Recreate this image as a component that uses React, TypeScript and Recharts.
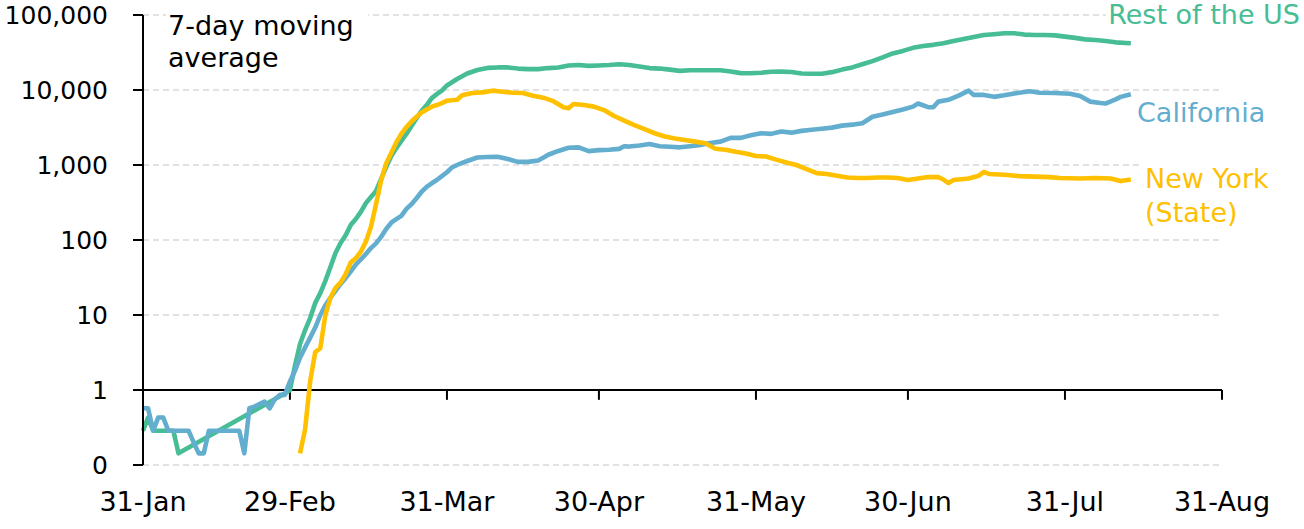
import React from 'react';
import { LineChart, Line, XAxis, YAxis, CartesianGrid, ReferenceLine } from 'recharts';

// x = days since 31-Jan
const tickDays = [0, 29, 60, 90, 121, 151, 182, 213];
const tickLabels = ['31-Jan', '29-Feb', '31-Mar', '30-Apr', '31-May', '30-Jun', '31-Jul', '31-Aug'];
const yTicks = [0.1, 1, 10, 100, 1000, 10000, 100000];

const restDays = [
  0, 1, 2, 6, 7, 28, 29, 30, 31, 32, 33, 34, 35, 36, 37, 38, 39, 40, 41, 42, 43, 44, 45, 46, 47, 48, 49, 50,
  51, 52, 53, 54, 55, 56, 57, 58, 59, 60, 62, 64, 66, 68, 70, 72, 74, 76, 78, 80, 82, 84, 86, 88, 90, 92, 94,
  96, 98, 100, 102, 104, 106, 108, 110, 112, 114, 116, 118, 120, 122, 124, 126, 128, 130, 132, 134, 136, 138,
  140, 142, 144, 146, 148, 150, 152, 154, 156, 158, 160, 162, 164, 166, 168, 170, 172, 174, 176, 178, 180, 182,
  184, 186, 188, 190, 192, 194, 195,
];
const restValues = [
  0.286, 0.429, 0.286, 0.286, 0.143, 0.9, 1.0, 2.1, 4.1, 6.3, 9.1, 14.5, 19.6, 28.5, 43.6, 67, 91, 116, 158, 190,
  237, 310, 375, 450, 650, 940, 1310, 1680, 2100, 2600, 3300, 4200, 5300, 6300, 7800, 8800, 9800, 11500, 14000,
  16600, 18500, 19700, 20000, 20000, 19300, 19000, 19000, 19600, 20000, 21200, 21500, 21000, 21200, 21500, 22000,
  21500, 20600, 19600, 19300, 18700, 18000, 18300, 18300, 18300, 18300, 17600, 16800, 16700, 17000, 17500, 17600,
  17400, 16600, 16500, 16500, 17300, 18700, 20000, 22000, 24300, 27200, 30700, 33200, 36500, 38600, 40000, 42000,
  45000, 47800, 51000, 54000, 55500, 57000, 57000, 54800, 54000, 54000, 53500, 51500, 49500, 47300, 46400, 45000,
  43200, 42400, 42000,
];

const caDays = [
  0, 1, 2, 3, 4, 5, 9, 10, 11, 12, 13, 19, 20, 21, 22, 23, 24, 25, 26, 27, 28, 29, 30, 31, 32, 33, 34, 35, 36,
  37, 38, 39, 40, 41, 42, 43, 44, 45, 46, 47, 48, 49, 50, 51, 52, 53, 54, 55, 56, 57, 58, 59, 60, 61, 62, 63, 64,
  66, 68, 70, 72, 74, 76, 78, 79, 80, 82, 84, 86, 88, 90, 92, 94, 95, 96, 98, 100, 102, 104, 106, 108, 110, 112,
  114, 116, 118, 120, 122, 124, 126, 128, 130, 132, 134, 136, 138, 140, 142, 144, 146, 148, 150, 152, 153, 155,
  156, 157, 159, 161, 163, 164, 166, 168, 170, 172, 175, 177, 180, 183, 185, 187, 189, 190, 192, 193, 195,
];
const caValues = [
  0.571, 0.571, 0.286, 0.429, 0.429, 0.286, 0.286, 0.2, 0.143, 0.143, 0.286, 0.286, 0.143, 0.571, 0.6, 0.65, 0.7,
  0.57, 0.75, 0.86, 0.86, 1.3, 1.8, 2.7, 3.7, 5.0, 6.8, 10, 13.5, 17, 21, 26, 31, 38, 47, 55, 65, 78, 90, 110, 140,
  170, 190, 210, 260, 300, 360, 440, 510, 570, 630, 710, 800, 930, 1000, 1070, 1130, 1260, 1280, 1290, 1200, 1100,
  1100, 1150, 1250, 1370, 1540, 1700, 1720, 1530, 1580, 1600, 1640, 1780, 1760, 1820, 1900, 1780, 1750, 1720, 1780,
  1850, 1960, 2050, 2300, 2300, 2500, 2650, 2600, 2800, 2700, 2850, 2950, 3050, 3150, 3350, 3450, 3600, 4400, 4700,
  5100, 5500, 6000, 6600, 5900, 5900, 7000, 7400, 8400, 9800, 8600, 8600, 8100, 8500, 9000, 9600, 9200, 9100, 8900,
  8300, 7000, 6700, 6600, 7500, 8100, 8800,
];

const nyDays = [
  31, 32, 33, 34, 35, 36, 37, 38, 39, 40, 41, 42, 43, 44, 45, 46, 47, 48, 49, 50, 51, 52, 53, 54, 55, 56, 57, 58,
  59, 60, 62, 63, 65, 67, 69, 71, 73, 75, 77, 79, 81, 83, 84, 85, 87, 89, 91, 93, 95, 97, 99, 101, 103, 105, 107,
  109, 111, 113, 115, 117, 119, 121, 123, 125, 127, 129, 131, 133, 135, 137, 139, 141, 143, 145, 147, 149, 151,
  153, 155, 157, 158, 159, 160, 163, 165, 166, 167, 170, 173, 176, 179, 181, 185, 188, 191, 193, 195,
];
const nyValues = [
  0.143, 0.3, 1.3, 3.2, 3.6, 10, 17, 23, 27, 35, 50, 57, 70, 95, 150, 300, 620, 1050, 1450, 2000, 2600, 3200,
  3800, 4400, 5000, 5500, 6000, 6300, 6700, 7200, 7400, 8500, 9100, 9300, 9800, 9500, 9200, 9100, 8400, 7900,
  7100, 5900, 5700, 6500, 6300, 6000, 5400, 4500, 3900, 3400, 3000, 2650, 2400, 2250, 2150, 2050, 1950, 1650,
  1600, 1500, 1420, 1320, 1300, 1180, 1080, 1000, 880, 780, 760, 720, 680, 670, 670, 680, 680, 670, 630, 660,
  690, 690, 640, 575, 630, 660, 720, 810, 760, 740, 710, 700, 690, 670, 660, 670, 660, 610, 640,
];

const restData = restDays.map((day, i) => ({ day, v: restValues[i] }));
const caData = caDays.map((day, i) => ({ day, v: caValues[i] }));
const nyData = nyDays.map((day, i) => ({ day, v: nyValues[i] }));

const GREEN = '#46bd95';
const BLUE = '#63aecf';
const YELLOW = '#ffc000';
const FONT = '"DejaVu Sans", sans-serif';

const fmtY = (v: number) => (v < 1 ? '0' : v.toLocaleString('en-US'));
const fmtX = (v: number) => tickLabels[tickDays.indexOf(v)] ?? '';

const label = (extra: React.CSSProperties): React.CSSProperties => ({
  position: 'absolute',
  fontSize: 27,
  background: '#fff',
  whiteSpace: 'nowrap',
  ...extra,
});

export default function App() {
  return (
    <div style={{ position: 'absolute', left: 0, top: 0, width: 1304, height: 529, background: '#fff', fontFamily: FONT }}>
      <LineChart width={1304} height={529} data={restData} margin={{ top: 15, right: 82, bottom: 0, left: 0 }}>
        <CartesianGrid vertical={false} stroke="#d9d9d9" strokeWidth={1.5} strokeDasharray="6 4" />
        <XAxis
          type="number"
          dataKey="day"
          domain={[0, 213]}
          ticks={tickDays}
          tickFormatter={fmtX}
          axisLine={false}
          tickLine={false}
          tickSize={0}
          tickMargin={27}
          height={64}
          tick={{ fontSize: 27, fill: '#000', fontFamily: FONT }}
          interval={0}
        />
        <YAxis
          scale="log"
          domain={[0.1, 100000]}
          ticks={yTicks}
          tickFormatter={fmtY}
          allowDataOverflow
          width={143}
          axisLine={{ stroke: '#000', strokeWidth: 2 }}
          tickLine={{ stroke: '#000', strokeWidth: 2 }}
          tickSize={10}
          tickMargin={25}
          tick={{ fontSize: 25, fill: '#000', fontFamily: FONT }}
          interval={0}
        />
        <ReferenceLine y={1} stroke="#000" strokeWidth={2} />
        {tickDays.map((d) => (
          <ReferenceLine key={d} segment={[{ x: d, y: 1 }, { x: d, y: 0.74 }]} stroke="#000" strokeWidth={2} />
        ))}
        <Line data={restData} dataKey="v" stroke={GREEN} strokeWidth={4.6} dot={false} isAnimationActive={false} strokeLinejoin="round" />
        <Line data={caData} dataKey="v" stroke={BLUE} strokeWidth={4.6} dot={false} isAnimationActive={false} strokeLinejoin="round" />
        <Line data={nyData} dataKey="v" stroke={YELLOW} strokeWidth={4.6} dot={false} isAnimationActive={false} strokeLinejoin="round" />
      </LineChart>
      <div style={label({ left: 166, top: 10, width: 200, lineHeight: '32px', paddingLeft: 2, color: '#000' })}>
        7-day moving
        <br />
        average
      </div>
      <div style={label({ right: 4, top: -1, lineHeight: '32px', paddingLeft: 2, color: GREEN })}>Rest of the US</div>
      <div style={label({ left: 1137, top: 97, lineHeight: '32px', color: BLUE })}>California</div>
      <div style={label({ left: 1143, top: 162, lineHeight: '34px', paddingLeft: 2, color: YELLOW })}>
        New York
        <br />
        (State)
      </div>
    </div>
  );
}
